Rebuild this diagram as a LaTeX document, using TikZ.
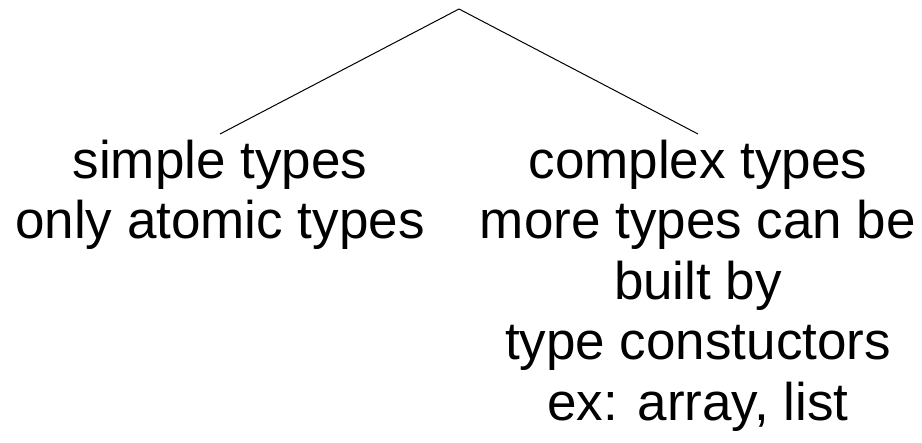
\documentclass[tikz,border=0pt]{standalone}
\usepackage{fontspec}
\setmainfont{Liberation Sans}
\usepackage{tikz}
\tikzstyle{kind}=[align=center,inner sep=0pt,outer sep=6pt,font=\fontsize{53}{60.5}\selectfont]
\tikzstyle{branch} = [draw,line width=1pt,-]

\begin{document}
\begin{tikzpicture}[x=1pt,y=-1pt]
          \useasboundingbox (0,0) rectangle (922,443);
          \coordinate (root) at (459,9);
          \node[kind,anchor=north] (simple) at (220,134) {simple types\\only atomic types};
          \node[kind,anchor=north] (complex) at (698,134) {complex types\\more types can be\\built by\\type constuctors\\ex: array, list};
          \draw[branch] (root) to (simple.north);
          \draw[branch] (root) to (complex.north);
\end{tikzpicture}
\end{document}
